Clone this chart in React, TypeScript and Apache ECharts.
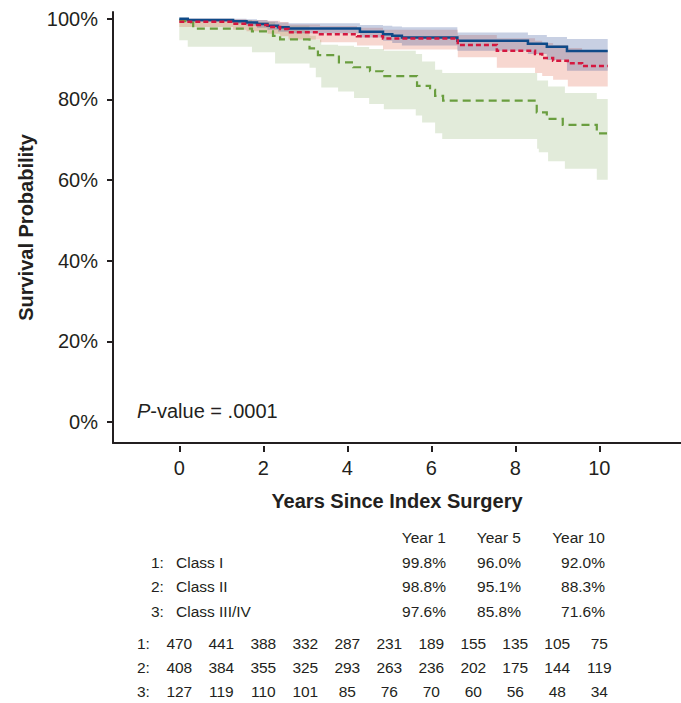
import React, { useEffect, useRef } from "react";
import * as echarts from "echarts";

const FONT = '"Liberation Sans", Arial, Helvetica, sans-serif';
const INK = "#231f20";

const X_TICKS = [0, 2, 4, 6, 8, 10];
const Y_TICKS = [0, 20, 40, 60, 80, 100];
const END_TIME = 10.2;

// Class I (solid blue)
const class1Times = [0, 0.2, 1.28, 1.6, 1.85, 2.1, 2.35, 2.6, 4.3, 4.85, 5.07, 5.3, 6.62, 8.3, 8.75, 9.23];
const class1Surv = [100, 99.7, 99.4, 99.1, 98.7, 98.3, 97.9, 97.6, 96.8, 96.2, 95.8, 95.4, 94.6, 93.8, 93.1, 92.0];
const class1Lower = [99.6, 99.2, 98.8, 98.3, 97.8, 97.3, 96.8, 96.4, 95.4, 94.6, 94.0, 93.4, 92.1, 91.3, 89.8, 87.1];
const class1Upper = [100, 100, 100, 99.9, 99.7, 99.4, 99.1, 98.9, 98.5, 98.3, 98.1, 97.9, 96.6, 96.0, 95.5, 95.0];

// Class II (dotted red)
const class2Times = [0, 1.28, 1.6, 2.1, 2.4, 2.6, 3.35, 4.23, 4.85, 6.63, 7.56, 8.47, 8.64, 8.9, 9.25, 9.59];
const class2Surv = [99.3, 98.8, 98.5, 98.0, 97.5, 96.7, 96.2, 95.7, 95.1, 93.5, 92.1, 91.3, 90.3, 89.6, 89.0, 88.3];
const class2Lower = [98.0, 97.3, 96.9, 96.3, 95.7, 94.9, 94.2, 93.4, 92.4, 90.5, 87.9, 86.6, 85.8, 84.9, 83.2, 83.2];
const class2Upper = [100, 99.9, 99.7, 99.5, 99.2, 98.6, 98.2, 97.8, 97.3, 96.0, 95.2, 94.6, 94.0, 93.5, 92.8, 92.1];

// Class III/IV (dashed green)
const class3Times = [0, 0.14, 0.33, 1.73, 2.23, 2.4, 3.1, 3.3, 3.8, 4.14, 4.54, 4.85, 5.66, 5.97, 6.09, 6.28, 8.51, 8.75, 9.13, 9.94];
const class3Surv = [99.7, 99.1, 97.6, 96.9, 95.8, 94.9, 92.7, 91.0, 89.2, 88.0, 87.0, 85.8, 83.4, 82.4, 80.9, 79.7, 76.8, 75.2, 73.7, 71.6];
const class3BandTimes = [0, 0.2, 1.73, 2.28, 3.1, 3.25, 3.38, 3.78, 4.16, 4.52, 4.87, 5.63, 5.78, 6.09, 6.26, 8.52, 8.56, 8.78, 9.18, 9.94];
const class3Lower = [94.7, 93.1, 91.7, 88.9, 87.9, 85.5, 83.0, 82.0, 80.4, 78.9, 77.6, 76.0, 74.3, 71.6, 70.2, 67.8, 66.9, 64.7, 62.8, 60.1];
const class3Upper = [100, 99.7, 99.2, 98.3, 95.8, 94.8, 93.6, 93.3, 93.0, 92.5, 92.1, 91.3, 89.4, 87.4, 86.6, 84.7, 84.7, 83.2, 81.6, 80.1];

// Survival table
const classLabels = ["Class I", "Class II", "Class III/IV"];
const tableHeaders = ["Year 1", "Year 5", "Year 10"];
const year1Surv = [99.8, 98.8, 97.6];
const year5Surv = [96.0, 95.1, 85.8];
const year10Surv = [92.0, 88.3, 71.6];

// Number at risk
const riskRowLabels = ["1:", "2:", "3:"];
const riskYears = [0, 1, 2, 3, 4, 5, 6, 7, 8, 9, 10];
const riskClass1 = [470, 441, 388, 332, 287, 231, 189, 155, 135, 105, 75];
const riskClass2 = [408, 384, 355, 325, 293, 263, 236, 202, 175, 144, 119];
const riskClass3 = [127, 119, 110, 101, 85, 76, 70, 60, 56, 48, 34];

const X_MIN = -1.579;
const X_MAX = 11.945;
const Y_MIN = -5.2;
const Y_MAX = 101.7;

function stepLine(times: number[], surv: number[], color: string, width: number, dash: any, z: number) {
  const data = times.map((t, i) => [t, surv[i]]);
  data.push([END_TIME, surv[surv.length - 1]]);
  return {
    type: "line",
    step: "end",
    data,
    showSymbol: false,
    symbol: "none",
    xAxisIndex: 0,
    yAxisIndex: 0,
    z,
    silent: true,
    lineStyle: { color, width, type: dash, cap: "butt", join: "miter" },
  };
}

function band(times: number[], lower: number[], upper: number[], fill: string, z: number) {
  const n = times.length;
  const tEnd = (i: number) => (i + 1 < n ? times[i + 1] : END_TIME);
  return {
    type: "custom",
    coordinateSystem: "cartesian2d",
    xAxisIndex: 0,
    yAxisIndex: 0,
    z,
    silent: true,
    data: times.map((t, i) => [t, tEnd(i), lower[i], upper[i]]),
    encode: { x: [0, 1], y: [2, 3] },
    renderItem: (params: any, api: any) => {
      if (params.dataIndex !== 0) return null;
      const points: number[][] = [];
      for (let i = 0; i < n; i++) {
        points.push(api.coord([times[i], upper[i]]));
        points.push(api.coord([tEnd(i), upper[i]]));
      }
      for (let i = n - 1; i >= 0; i--) {
        points.push(api.coord([tEnd(i), lower[i]]));
        points.push(api.coord([times[i], lower[i]]));
      }
      return { type: "polygon", shape: { points }, style: { fill } };
    },
  };
}

export default function App() {
  const ref = useRef<HTMLDivElement>(null);

  useEffect(() => {
    if (!ref.current) return;
    const chart = echarts.init(ref.current, undefined, { renderer: "svg" });

    const riskData: any[] = [];
    [riskClass1, riskClass2, riskClass3].forEach((row, r) => {
      row.forEach((v, i) => riskData.push([riskYears[i], riskRowLabels[r], v]));
    });

    const graphic: any[] = [];
    const headerRight = [446, 521, 605];
    tableHeaders.forEach((h, i) => {
      graphic.push({
        type: "text",
        x: headerRight[i],
        y: 537,
        style: { text: h, fill: INK, fontSize: 15.5, fontFamily: FONT, align: "right", verticalAlign: "middle" },
      });
    });
    const rowY = [562, 586.5, 611];
    const cols = [year1Surv, year5Surv, year10Surv];
    classLabels.forEach((name, r) => {
      graphic.push({
        type: "text",
        x: 151,
        y: rowY[r],
        style: { text: `${r + 1}:`, fill: INK, fontSize: 15.5, fontFamily: FONT, align: "left", verticalAlign: "middle" },
      });
      graphic.push({
        type: "text",
        x: 176,
        y: rowY[r],
        style: { text: name, fill: INK, fontSize: 15.5, fontFamily: FONT, align: "left", verticalAlign: "middle" },
      });
      cols.forEach((col, c) => {
        graphic.push({
          type: "text",
          x: headerRight[c],
          y: rowY[r],
          style: { text: col[r].toFixed(1) + "%", fill: INK, fontSize: 15.5, fontFamily: FONT, align: "right", verticalAlign: "middle" },
        });
      });
    });
    graphic.push({
      type: "text",
      x: 137,
      y: 411,
      style: {
        text: "{i|P}-value = .0001",
        rich: { i: { fontStyle: "italic", fontSize: 20, fontFamily: FONT, fill: INK } },
        fill: INK,
        fontSize: 20,
        fontFamily: FONT,
        verticalAlign: "middle",
      },
    });

    const option: any = {
      animation: false,
      backgroundColor: "#ffffff",
      textStyle: { fontFamily: FONT },
      grid: [
        { left: 113, right: 0, top: 12, bottom: 260, containLabel: false },
        { left: 113, right: 0, top: 631, height: 73, containLabel: false },
      ],
      xAxis: [
        {
          type: "value",
          gridIndex: 0,
          position: "bottom",
          min: X_MIN,
          max: X_MAX,
          axisLine: { show: true, onZero: false, lineStyle: { color: INK, width: 2 } },
          axisTick: { show: false },
          axisLabel: { show: false },
          splitLine: { show: false },
          name: "Years Since Index Surgery",
          nameLocation: "middle",
          nameGap: 48,
          nameTextStyle: { fontSize: 20, fontWeight: "bold", color: INK, fontFamily: FONT },
        },
        {
          type: "value",
          gridIndex: 0,
          position: "bottom",
          offset: 3,
          min: X_MIN,
          max: X_MAX,
          axisLine: { show: false, onZero: false },
          axisTick: { show: true, length: 6, customValues: X_TICKS, lineStyle: { color: INK, width: 2 } },
          axisLabel: { show: true, customValues: X_TICKS, margin: 12, fontSize: 20, color: INK, fontFamily: FONT },
          splitLine: { show: false },
        },
        {
          type: "value",
          gridIndex: 1,
          min: X_MIN,
          max: X_MAX,
          show: false,
        },
      ],
      yAxis: [
        {
          type: "value",
          gridIndex: 0,
          min: Y_MIN,
          max: Y_MAX,
          axisLine: { show: true, onZero: false, lineStyle: { color: INK, width: 2 } },
          axisTick: { show: true, length: 6, customValues: Y_TICKS, lineStyle: { color: INK, width: 2 } },
          axisLabel: {
            show: true,
            customValues: Y_TICKS,
            margin: 15,
            fontSize: 20,
            color: INK,
            fontFamily: FONT,
            formatter: (v: number) => `${v}%`,
          },
          splitLine: { show: false },
          name: "Survival Probability",
          nameLocation: "middle",
          nameGap: 76,
          nameTextStyle: { fontSize: 20, fontWeight: "bold", color: INK, fontFamily: FONT },
        },
        {
          type: "category",
          gridIndex: 1,
          inverse: true,
          data: riskRowLabels,
          axisLine: { show: false },
          axisTick: { show: false },
          axisLabel: { show: true, inside: true, margin: 24, fontSize: 15.5, color: INK, fontFamily: FONT },
          splitLine: { show: false },
        },
      ],
      series: [
        band(class3BandTimes, class3Lower, class3Upper, "rgba(100,150,60,0.19)", 1),
        band(class2Times, class2Lower, class2Upper, "rgba(215,55,20,0.2)", 2),
        band(class1Times, class1Lower, class1Upper, "rgba(35,67,143,0.25)", 3),
        stepLine(class3Times, class3Surv, "#6a9e3f", 2.2, [8, 5], 5),
        stepLine(class1Times, class1Surv, "#0f4a88", 2.5, "solid", 6),
        stepLine(class2Times, class2Surv, "#d5173f", 2.5, [5, 3], 7),
        {
          type: "scatter",
          xAxisIndex: 2,
          yAxisIndex: 1,
          symbolSize: 0,
          silent: true,
          itemStyle: { opacity: 1, color: "transparent" },
          data: riskData,
          label: {
            show: true,
            position: "inside",
            formatter: (p: any) => String(p.value[2]),
            fontSize: 15.5,
            color: INK,
            opacity: 1,
            fontFamily: FONT,
          },
        },
      ],
      graphic,
    };

    chart.setOption(option);
    return () => chart.dispose();
  }, []);

  return <div ref={ref} style={{ position: "fixed", left: 0, top: 0, width: 681, height: 703 }} />;
}
